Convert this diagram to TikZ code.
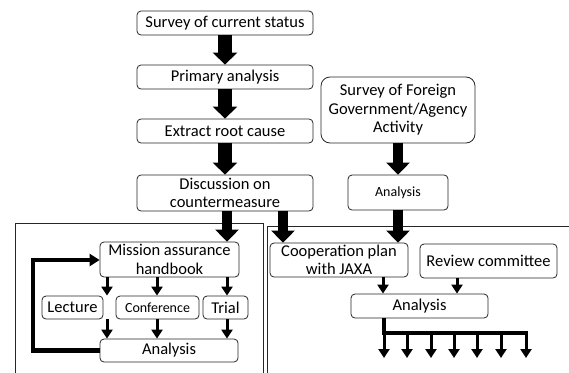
\documentclass[tikz,border=0pt]{standalone}
\usepackage{fontspec}
\setmainfont{Carlito}
\usetikzlibrary{arrows.meta}
\begin{document}
\begin{tikzpicture}[x=1pt,y=-1pt,
  box/.style={draw=black!85,line width=0.8pt,rounded corners=4pt,inner sep=0pt,
    align=center,font=\fontsize{16.5}{18.5}\selectfont},
  bigbox/.style={box,rounded corners=9pt},
  small/.style={font=\fontsize{14}{16}\selectfont},
  bigarrow/.style={line width=14pt,-{Triangle[width=24pt,length=12pt]}},
  midarrow/.style={line width=10pt,-{Triangle[width=23pt,length=12pt]}},
  thinarrow/.style={line width=3pt,-{Triangle[width=11pt,length=9pt]}},
  thickline/.style={line width=4.5pt},
  frame/.style={draw=black!85,line width=0.8pt}]
\useasboundingbox (0,0) rectangle (569,372);
\clip (0,0) rectangle (569,372);
% frames
\draw[frame] (15,390) -- (15,223) -- (263,223) -- (263,390);
\draw[frame] (267,390) -- (267,226) -- (590,226);
% main column
\node[box,minimum width=176pt,minimum height=24pt] (s1) at (225,23) {Survey of current status};
\node[box,minimum width=176pt,minimum height=24pt] (s2) at (225,77) {Primary analysis};
\node[box,minimum width=176pt,minimum height=24pt] (s3) at (225,131) {Extract root cause};
\node[box,minimum width=176pt,minimum height=36pt] (s4) at (225,193) {Discussion on\\countermeasure};
% foreign
\node[bigbox,minimum width=154pt,minimum height=66pt] (f1) at (398,110) {Survey of Foreign\\Government/Agency\\Activity};
\node[box,small,minimum width=100pt,minimum height=35pt] (f2) at (398,192.5) {Analysis};
% left block
\node[box,minimum width=139pt,minimum height=35pt] (m1) at (169.5,259.5) {Mission assurance\\handbook};
\node[box,minimum width=61pt,minimum height=23pt] (lec) at (72.5,307.5) {Lecture};
\node[box,small,minimum width=83pt,minimum height=23pt] (conf) at (157.5,307.5) {Conference};
\node[box,minimum width=45pt,minimum height=23pt] (trial) at (225.5,307.5) {Trial};
\node[box,minimum width=138pt,minimum height=23pt] (a1) at (169,350.5) {Analysis};
% right block
\node[box,minimum width=138pt,minimum height=34pt] (coop) at (339,260) {Cooperation plan\\with JAXA};
\node[box,minimum width=137pt,minimum height=34pt] (rev) at (488.5,261) {Review committee};
\node[box,minimum width=137pt,minimum height=24pt] (a2) at (419.5,306) {Analysis};
% big arrows
\draw[bigarrow] (s1.south) -- (s2.north);
\draw[bigarrow] (s2.south) -- (s3.north);
\draw[bigarrow] (s3.south) -- (s4.north);
\draw[midarrow] (s4.south -| 227,0) -- (m1.north -| 227,0);
\draw[midarrow] (s4.south -| 283,0) -- (coop.north -| 283,0);
\draw[midarrow] (f1.south) -- (f2.north);
\draw[midarrow] (f2.south) -- (f2.south |- coop.north);
% small arrows left
\foreach \x/\n in {107/lec,157/conf,227/trial}{
  \draw[thinarrow] (m1.south -| \x,0) -- (\n.north -| \x,0);
  \draw[thinarrow] (\n.south -| \x,0) -- (a1.north -| \x,0);
}
% feedback
\draw[thickline,-{Triangle[width=12pt,length=10pt]}] (a1.west) -- (33,350.5) -- (33,260) -- (m1.west |- 0,260);
% right small arrows
\draw[thinarrow] (coop.south -| 383,0) -- (a2.north -| 383,0);
\draw[thinarrow] (rev.south -| 457,0) -- (a2.north -| 457,0);
% distribution
\coordinate (b0) at (384,333);
\coordinate (b1) at (527,333);
\draw[thickline] (a2.south -| b0) -- (b0) -- (b1);
\foreach \x [count=\i] in {384,407,431,454,477,501,526}{
  \coordinate (t\i) at (\x,358);
  \draw[thinarrow] (\x,331) -- (t\i);
}
\end{tikzpicture}
\end{document}
